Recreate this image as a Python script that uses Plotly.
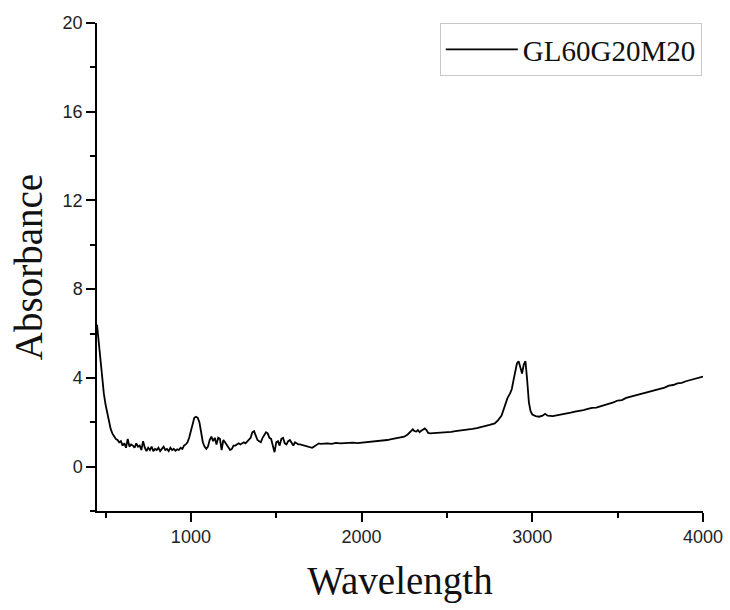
import plotly.graph_objects as go

wavelength = [450, 460, 470, 480, 490, 500, 510, 520, 530, 540, 550, 560, 570, 580, 590,
              600, 610, 620, 630, 640, 650, 660, 670, 680, 690, 700, 710, 720, 730, 740,
              750, 760, 770, 780, 790, 800, 810, 820, 830, 840, 850, 860, 870, 880, 890,
              900, 910, 920, 930, 940, 950, 960, 970, 980, 990, 1000, 1010, 1020, 1030, 1040,
              1050, 1060, 1070, 1080, 1090, 1100, 1110, 1120, 1130, 1140, 1150, 1160, 1170, 1180, 1190,
              1200, 1210, 1220, 1230, 1240, 1250, 1260, 1270, 1280, 1290, 1300, 1310, 1320, 1330, 1340,
              1350, 1360, 1370, 1380, 1390, 1400, 1410, 1420, 1430, 1440, 1450, 1460, 1470, 1480, 1490,
              1500, 1510, 1520, 1530, 1540, 1550, 1560, 1570, 1580, 1590, 1600, 1610, 1620, 1630, 1640,
              1650, 1660, 1670, 1680, 1690, 1700, 1710, 1720, 1730, 1740, 1750, 1760, 1780, 1800, 1825,
              1850, 1875, 1900, 1925, 1950, 1975, 2000, 2025, 2050, 2075, 2100, 2125, 2150, 2175, 2200,
              2225, 2250, 2270, 2290, 2300, 2310, 2320, 2330, 2340, 2350, 2360, 2370, 2380, 2390, 2400,
              2425, 2450, 2475, 2500, 2525, 2550, 2575, 2600, 2625, 2650, 2675, 2700, 2725, 2750, 2780,
              2800, 2820, 2840, 2855, 2870, 2880, 2890, 2900, 2910, 2920, 2930, 2940, 2950, 2960, 2970,
              2980, 2990, 3000, 3020, 3040, 3060, 3075, 3090, 3120, 3150, 3175, 3200, 3225, 3250, 3275,
              3300, 3325, 3350, 3375, 3400, 3425, 3450, 3475, 3500, 3525, 3550, 3575, 3600, 3625, 3650,
              3675, 3700, 3725, 3750, 3775, 3800, 3825, 3850, 3875, 3900, 3925, 3950, 3975, 4000]

absorbance = [6.4, 5.6, 4.7, 4.0, 3.3, 2.8, 2.4, 2.0, 1.7, 1.5, 1.35, 1.25, 1.2, 1.1, 1.15,
              0.95, 1.05, 0.85, 1.25, 0.9, 1.0, 0.95, 0.85, 1.05, 0.9, 0.95, 0.75, 1.15, 0.85, 0.7,
              0.85, 0.75, 0.9, 0.7, 0.8, 0.75, 0.85, 0.7, 0.8, 0.9, 0.75, 0.8, 0.7, 0.85, 0.75,
              0.8, 0.72, 0.78, 0.75, 0.85, 0.8, 0.95, 1.0, 1.1, 1.3, 1.6, 1.9, 2.2, 2.25, 2.2,
              2.0, 1.5, 1.1, 0.9, 0.8, 0.9, 1.2, 1.35, 1.15, 1.3, 1.0, 1.3, 1.25, 0.75, 1.2,
              1.1, 1.0, 0.85, 0.75, 0.8, 0.95, 0.95, 1.0, 1.05, 1.0, 1.05, 1.1, 1.05, 1.15, 1.2,
              1.3, 1.55, 1.6, 1.4, 1.2, 1.15, 1.1, 1.3, 1.45, 1.55, 1.5, 1.3, 1.25, 1.0, 0.65,
              1.1, 1.15, 0.95, 1.25, 1.3, 1.05, 1.0, 1.15, 1.2, 1.05, 0.95, 1.1, 1.05, 1.0, 1.0,
              0.98, 0.95, 0.92, 0.9, 0.88, 0.85, 0.85, 0.9, 0.95, 1.02, 1.05, 1.03, 1.05, 1.05, 1.03,
              1.07, 1.05, 1.06, 1.08, 1.08, 1.06, 1.08, 1.1, 1.1, 1.12, 1.15, 1.18, 1.2, 1.24, 1.28,
              1.32, 1.35, 1.45, 1.6, 1.68, 1.6, 1.58, 1.65, 1.55, 1.62, 1.68, 1.72, 1.65, 1.52, 1.5,
              1.51, 1.52, 1.54, 1.55, 1.57, 1.6, 1.62, 1.65, 1.68, 1.7, 1.74, 1.78, 1.82, 1.88, 1.95,
              2.1, 2.3, 2.75, 3.1, 3.3, 3.5, 3.9, 4.3, 4.65, 4.75, 4.45, 4.2, 4.6, 4.75, 3.9,
              2.9, 2.5, 2.35, 2.28, 2.25, 2.3, 2.38, 2.3, 2.28, 2.32, 2.35, 2.4, 2.43, 2.48, 2.5,
              2.55, 2.6, 2.65, 2.66, 2.72, 2.76, 2.85, 2.9, 2.98, 3.0, 3.1, 3.15, 3.22, 3.24, 3.3,
              3.36, 3.42, 3.46, 3.52, 3.56, 3.65, 3.68, 3.75, 3.78, 3.85, 3.9, 3.97, 4.0, 4.06]

series_name = "GL60G20M20"
x_title = "Wavelength"
y_title = "Absorbance"

fig = go.Figure()
fig.add_trace(go.Scatter(x=wavelength, y=absorbance, mode="lines", name=series_name,
                         line=dict(color="black", width=1.8), showlegend=True))

tick_font = dict(family="Liberation Sans, Arial", size=18, color="#222222")
title_font = dict(family="Liberation Serif, Times New Roman", size=39, color="#111111")

fig.update_layout(
    width=730, height=610,
    margin=dict(l=97, r=27, t=23, b=99, autoexpand=False),
    paper_bgcolor="white", plot_bgcolor="white",
    showlegend=True,
    legend=dict(x=0.998, y=1.0, xanchor="right", yanchor="top",
                bordercolor="#c8c8c8", borderwidth=1, bgcolor="white",
                font=dict(family="Liberation Serif, Times New Roman", size=29, color="#111111"),
                itemwidth=72),
    xaxis=dict(range=[450, 4000], showgrid=False, zeroline=False,
               showline=True, linecolor="black", linewidth=1.5,
               ticks="outside", ticklen=9, tickwidth=1.5, tickcolor="black",
               tick0=0, dtick=1000, tickfont=tick_font,
               minor=dict(ticks="outside", ticklen=5, tickwidth=1.5, tickcolor="black", dtick=500, tick0=0),
               title=dict(text=x_title, font=title_font, standoff=20)),
    yaxis=dict(range=[-2, 20], showgrid=False, zeroline=False,
               showline=True, linecolor="black", linewidth=1.5,
               ticks="outside", ticklen=9, tickwidth=1.5, tickcolor="black",
               tick0=0, dtick=4, tickfont=tick_font,
               minor=dict(ticks="outside", ticklen=5, tickwidth=1.5, tickcolor="black", dtick=2, tick0=0),
               title=dict(text=y_title, font=title_font, standoff=8)),
)

fig.write_html("out.html")
